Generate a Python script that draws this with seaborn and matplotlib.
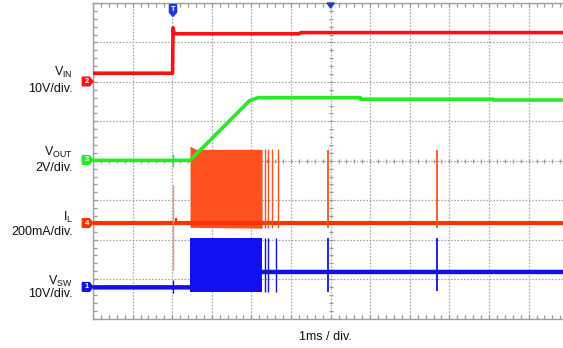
import numpy as np
import matplotlib
matplotlib.use("Agg")
import matplotlib.pyplot as plt
from matplotlib.patches import Polygon
from matplotlib.ticker import MultipleLocator
import seaborn as sns

# ---- waveform data (x: time in ms = divisions, y: screen divisions) ----
vin_t = [0.0, 2.01, 2.02, 2.05, 2.07, 5.20, 5.25, 12.0]
vin_v = [6.22, 6.22, 7.37, 7.22, 7.22, 7.22, 7.25, 7.25]

vout_t = [0.0, 2.45, 3.95, 4.17, 6.75, 6.76, 10.10, 10.11, 12.0]
vout_v = [4.01, 4.01, 5.52, 5.60, 5.60, 5.56, 5.56, 5.54, 5.54]
vout_glitch_t = 2.02
vout_glitch = (3.85, 4.16)

il_t = [0.0, 12.0]
il_v = [2.41, 2.41]
il_burst_t = [2.45, 2.60, 4.27]
il_burst_hi = [4.37, 4.29, 4.29]
il_burst_lo = [2.31, 2.31, 2.29]
il_tail_t = [4.34, 4.42, 4.52, 4.66]
il_spike_t = [5.93, 8.68]
il_spike_hi = [4.27, 4.27]
il_spike_lo = [2.29, 2.29]
il_glitch_t = 2.02
il_glitch = (1.23, 3.38)
il_bump_t = 2.10
il_bump = (2.41, 2.55)

vsw_t = [0.0, 2.45, 2.45, 4.27, 4.27, 12.0]
vsw_v = [0.79, 0.79, np.nan, np.nan, 1.18, 1.18]
vsw_burst_t = [2.45, 4.27]
vsw_burst_hi = [2.03, 2.03]
vsw_burst_lo = [0.68, 0.68]
vsw_tail_t = [4.34, 4.42, 4.62]
vsw_spike_t = [5.93, 8.68]
vsw_spike_hi = [2.03, 2.03]
vsw_spike_lo = [0.66, 0.70]
vsw_glitch_t = 2.02
vsw_glitch = (0.65, 0.98)

# channel ground markers: (number, level)
ch_markers = [("2", 6.01), ("3", 4.02), ("4", 2.42), ("1", 0.80)]

labels = [("V$_{\\mathrm{IN}}$", 6.23), ("10V/div.", 5.81),
          ("V$_{\\mathrm{OUT}}$", 4.20), ("2V/div.", 3.82),
          ("I$_{\\mathrm{L}}$", 2.57), ("200mA/div.", 2.20),
          ("V$_{\\mathrm{SW}}$", 0.93), ("10V/div.", 0.62)]
x_label = "1ms / div."

C_VIN = "#FF1010"
C_VOUT = "#22EE22"
C_IL = "#FF3300"
C_IL_BURST = "#FF5020"
C_VSW = "#1010F0"

sns.set_theme(style="white")
plt.rcParams["font.family"] = ["Liberation Sans", "DejaVu Sans"]
plt.rcParams["mathtext.fontset"] = "custom"
plt.rcParams["mathtext.rm"] = "Liberation Sans"
plt.rcParams["mathtext.it"] = "Liberation Sans"

W, H = 563, 348
fig = plt.figure(figsize=(W / 100, H / 100), dpi=100)
left_px, div_px, top_px, bot_px = 93, 39.6, 3, 318.5
ax = fig.add_axes([left_px / W, (H - bot_px) / H, 12 * div_px / W, (bot_px - top_px) / H])
ax.set_xlim(0, 12)
ax.set_ylim(0, 8)

# graticule
ax.set_xticks(np.arange(0, 13, 1))
ax.set_yticks(np.arange(0, 9, 1))
ax.xaxis.set_minor_locator(MultipleLocator(0.2))
ax.yaxis.set_minor_locator(MultipleLocator(0.2))
ax.set_xticklabels([])
ax.set_yticklabels([])
ax.grid(True, which="major", color="#a8a8a8", linestyle=(0, (1.3, 1.3)), linewidth=0.9)
ax.tick_params(which="both", direction="in", length=3, width=0.9, color="#999999",
               top=True, bottom=True, left=True, right=False)
ax.set_axisbelow(True)
for side in ("left", "bottom", "top"):
    ax.spines[side].set_color("#a0a0a0")
    ax.spines[side].set_linewidth(1.0)
ax.spines["right"].set_visible(False)

# centre-line tick marks
mt = np.arange(0, 12.01, 0.2)
ax.vlines(mt, 4 - 0.05, 4 + 0.05, color="#999999", lw=0.9, zorder=1)
mv = np.arange(0, 8.01, 0.2)
ax.hlines(mv, 6 - 0.05, 6 + 0.05, color="#999999", lw=0.9, zorder=1)

# VSW
ax.fill_between(vsw_burst_t, vsw_burst_lo, vsw_burst_hi, color=C_VSW, lw=0, zorder=3)
sns.lineplot(x=vsw_t, y=vsw_v, ax=ax, color=C_VSW, lw=3.2, sort=False, estimator=None, zorder=3)
ax.vlines(vsw_tail_t, vsw_burst_lo[-1], vsw_burst_hi[-1], color=C_VSW, lw=1.0, zorder=3)
ax.vlines(vsw_spike_t, vsw_spike_lo, vsw_spike_hi, color=C_VSW, lw=1.3, zorder=3)
ax.vlines(vsw_glitch_t, *vsw_glitch, color=C_VSW, lw=1.0, zorder=3)

# IL
ax.fill_between(il_burst_t, il_burst_lo, il_burst_hi, color=C_IL_BURST, lw=0, zorder=3)
sns.lineplot(x=il_t, y=il_v, ax=ax, color=C_IL, lw=3.0, sort=False, estimator=None, zorder=3)
ax.vlines(il_tail_t, il_burst_lo[-1], il_burst_hi[-1], color=C_IL_BURST, lw=1.0, zorder=3)
ax.vlines(il_spike_t, il_spike_lo, il_spike_hi, color=C_IL_BURST, lw=1.3, zorder=3)
ax.vlines(il_glitch_t, *il_glitch, color="#F4907C", lw=1.0, zorder=3)
ax.vlines(il_bump_t, *il_bump, color=C_IL, lw=1.6, zorder=3)

# VOUT
sns.lineplot(x=vout_t, y=vout_v, ax=ax, color=C_VOUT, lw=2.6, sort=False, estimator=None, zorder=4)
ax.vlines(vout_glitch_t, *vout_glitch, color=C_VOUT, lw=1.0, zorder=4)

# VIN
sns.lineplot(x=vin_t, y=vin_v, ax=ax, color=C_VIN, lw=2.6, sort=False, estimator=None, zorder=4)
if ax.get_legend():
    ax.get_legend().remove()
ax.set_xlabel("")
ax.set_ylabel("")

# channel ground markers on the left edge
mcol = {"2": C_VIN, "3": C_VOUT, "4": C_IL, "1": C_VSW}
for num, lvl in ch_markers:
    pts = [(-0.27, lvl - 0.11), (-0.09, lvl - 0.11), (0.0, lvl), (-0.09, lvl + 0.11), (-0.27, lvl + 0.11)]
    ax.add_patch(Polygon(pts, closed=True, color=mcol[num], clip_on=False, zorder=6))
    ax.text(-0.15, lvl, num, color="white", fontsize=5.5, ha="center", va="center",
            clip_on=False, zorder=7, fontweight="bold")

# trigger marker and centre marker at the top
tx = 2.02
pts = [(tx - 0.09, 7.96), (tx + 0.09, 7.96), (tx + 0.09, 7.76), (tx, 7.66), (tx - 0.09, 7.76)]
ax.add_patch(Polygon(pts, closed=True, color="#1A3AE0", clip_on=False, zorder=6))
ax.text(tx, 7.84, "T", color="white", fontsize=5.5, ha="center", va="center", zorder=7,
        fontweight="bold")
pts = [(5.91, 8.0), (6.09, 8.0), (6.0, 7.87)]
ax.add_patch(Polygon(pts, closed=True, color="#1A3AE0", clip_on=False, zorder=6))

# channel labels
for txt, yv in labels:
    ax.text(-0.505, yv, txt, fontsize=9, ha="right", va="center", color="#111111", clip_on=False)

fig.text(325.5 / W, 1 - 337 / H, x_label, fontsize=9, ha="center", va="center", color="#111111")

fig.savefig("out.png", dpi=100)
